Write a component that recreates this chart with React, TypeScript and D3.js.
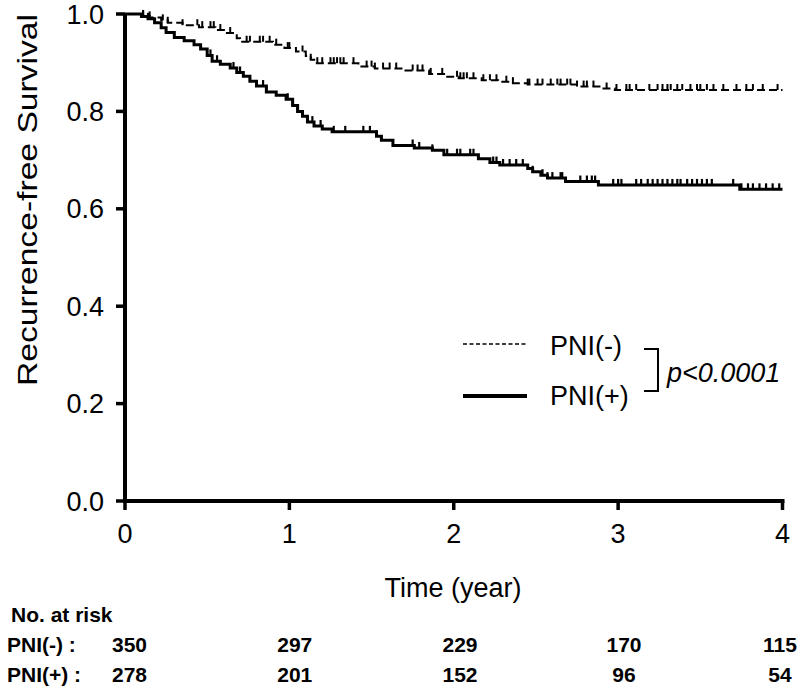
import React from "react";
import * as d3 from "d3";

// Kaplan–Meier steps: [time (years), survival]
const pniNegSteps: [number, number][] = [
  [0, 1], [0.11, 0.996], [0.15, 0.993], [0.22, 0.987], [0.26, 0.982], [0.35, 0.977],
  [0.45, 0.973], [0.55, 0.967], [0.62, 0.961], [0.68, 0.95], [0.7, 0.943], [0.9, 0.937],
  [0.97, 0.93], [1.04, 0.923], [1.1, 0.914], [1.13, 0.906], [1.16, 0.899], [1.42, 0.892],
  [1.52, 0.888], [1.7, 0.884], [1.85, 0.877], [1.95, 0.871], [2.03, 0.868], [2.17, 0.864],
  [2.27, 0.861], [2.36, 0.858], [2.45, 0.855], [2.75, 0.851], [2.9, 0.847], [2.98, 0.844],
  [4.0, 0.844],
];
const pniPosSteps: [number, number][] = [
  [0, 1], [0.1, 0.995], [0.14, 0.99], [0.18, 0.982], [0.22, 0.972], [0.25, 0.962],
  [0.3, 0.952], [0.36, 0.945], [0.42, 0.937], [0.46, 0.928], [0.5, 0.915], [0.53, 0.903],
  [0.58, 0.897], [0.64, 0.889], [0.68, 0.88], [0.72, 0.872], [0.76, 0.862], [0.8, 0.852],
  [0.86, 0.84], [0.92, 0.833], [0.98, 0.825], [1.02, 0.812], [1.05, 0.8], [1.08, 0.79],
  [1.11, 0.778], [1.15, 0.77], [1.2, 0.764], [1.26, 0.758], [1.53, 0.749], [1.56, 0.741],
  [1.63, 0.73], [1.76, 0.725], [1.87, 0.72], [1.94, 0.711], [2.15, 0.703], [2.22, 0.695],
  [2.28, 0.69], [2.45, 0.683], [2.48, 0.676], [2.53, 0.669], [2.57, 0.663], [2.68, 0.656],
  [2.88, 0.649], [3.74, 0.64], [4.0, 0.64],
];
// censored times
const pniNegCensor: number[] = [
  0.11, 0.15, 0.23, 0.26, 0.35, 0.44, 0.47, 0.52, 0.54, 0.58, 0.64, 0.74, 0.76, 0.82, 0.84,
  0.88, 0.92, 0.99, 1.0, 1.08, 1.13, 1.17, 1.2, 1.25, 1.27, 1.29, 1.31, 1.33, 1.39, 1.47,
  1.5, 1.52, 1.57, 1.61, 1.65, 1.75, 1.78, 1.81, 1.86, 1.93, 2.02, 2.04, 2.06, 2.08, 2.12,
  2.18, 2.22, 2.26, 2.32, 2.36, 2.45, 2.46, 2.51, 2.54, 2.59, 2.63, 2.65, 2.69, 2.71, 2.75,
  2.79, 2.81, 2.85, 2.93, 2.99, 3.05, 3.07, 3.11, 3.19, 3.24, 3.27, 3.3, 3.32, 3.36, 3.39,
  3.44, 3.48, 3.5, 3.54, 3.58, 3.64, 3.72, 3.78, 3.82, 3.88, 3.97,
];
const pniPosCensor: number[] = [
  0.11, 0.14, 0.52, 0.56, 0.66, 0.7, 0.76, 0.8, 0.84, 0.86, 0.99, 1.02, 1.05, 1.14, 1.19,
  1.27, 1.34, 1.45, 1.49, 1.53, 1.75, 1.79, 1.87, 1.96, 2.02, 2.04, 2.1, 2.12, 2.24, 2.26,
  2.3, 2.34, 2.38, 2.42, 2.48, 2.54, 2.57, 2.6, 2.65, 2.66, 2.77, 2.81, 2.84, 2.86, 2.97,
  3.0, 3.02, 3.11, 3.14, 3.18, 3.21, 3.24, 3.27, 3.3, 3.33, 3.36, 3.38, 3.42, 3.45, 3.48,
  3.51, 3.54, 3.57, 3.7, 3.75, 3.79, 3.82, 3.86, 3.9, 3.94, 3.98,
];

const xTicks = [0, 1, 2, 3, 4];
const yTicks = [0, 0.2, 0.4, 0.6, 0.8, 1.0];
const riskTimes = [0, 1, 2, 3, 4];
const riskNeg = [350, 297, 229, 170, 115];
const riskPos = [278, 201, 152, 96, 54];
const groupLabels = ["PNI(-)", "PNI(+)"];

const FONT = "'Liberation Sans', Arial, Helvetica, sans-serif";

function survAt(steps: [number, number][], t: number) {
  let s = 1;
  for (const [ti, si] of steps) {
    if (ti <= t) s = si;
    else break;
  }
  return s;
}

export default function App() {
  const x = d3.scaleLinear().domain([0, 4]).range([125, 782.5]);
  const y = d3.scaleLinear().domain([0, 1]).range([501, 14]);
  // risk-table column centres
  const xr = d3.scaleLinear().domain([0, 2, 3, 4]).range([129.5, 460, 624, 780]);
  const line = d3
    .line<[number, number]>()
    .x((d) => x(d[0]))
    .y((d) => y(d[1]))
    .curve(d3.curveStepAfter);

  const axisW = 4;
  return (
    <svg
      width={800}
      height={689}
      style={{ position: "absolute", left: 0, top: 0, background: "#fff" }}
      fontFamily={FONT}
    >
      <rect width={800} height={689} fill="#fff" />
      {/* curves */}
      <path d={line(pniNegSteps) || ""} fill="none" stroke="#000" strokeWidth={2} strokeDasharray="8,4" />
      <path d={line(pniPosSteps) || ""} fill="none" stroke="#000" strokeWidth={3} />
      {pniNegCensor.map((t, i) => (
        <line key={"nc" + i} x1={x(t)} x2={x(t)} y1={y(survAt(pniNegSteps, t))} y2={y(survAt(pniNegSteps, t)) - 6} stroke="#000" strokeWidth={2} />
      ))}
      {pniPosCensor.map((t, i) => (
        <line key={"pc" + i} x1={x(t)} x2={x(t)} y1={y(survAt(pniPosSteps, t))} y2={y(survAt(pniPosSteps, t)) - 6} stroke="#000" strokeWidth={2.2} />
      ))}

      {/* axes */}
      <line x1={x(0)} x2={x(0)} y1={y(1) - 1} y2={y(0) + 2} stroke="#000" strokeWidth={axisW} />
      <line x1={x(0) - 2} x2={x(4) + 2} y1={y(0)} y2={y(0)} stroke="#000" strokeWidth={axisW} />
      {yTicks.map((v) => (
        <g key={"yt" + v}>
          <line x1={x(0) - 9} x2={x(0)} y1={y(v)} y2={y(v)} stroke="#000" strokeWidth={3.5} />
          <text x={104} y={y(v) + 9.5} fontSize={27} textAnchor="end" fill="#000">
            {v.toFixed(1)}
          </text>
        </g>
      ))}
      {xTicks.map((v) => (
        <g key={"xt" + v}>
          <line x1={x(v)} x2={x(v)} y1={y(0)} y2={y(0) + 9} stroke="#000" strokeWidth={3.5} />
          <text x={x(v)} y={543} fontSize={27} textAnchor="middle" fill="#000">
            {v}
          </text>
        </g>
      ))}
      <text
        transform={`translate(37,200) rotate(-90)`}
        fontSize={27}
        textAnchor="middle"
        fill="#000"
        textLength={372}
        lengthAdjust="spacingAndGlyphs"
      >
        Recurrence-free Survival
      </text>
      <text x={453} y={597} fontSize={27} textAnchor="middle" fill="#000">
        Time (year)
      </text>

      {/* legend */}
      <line x1={463} x2={527} y1={344} y2={344} stroke="#000" strokeWidth={1.5} strokeDasharray="4,2.5" />
      <line x1={463} x2={527} y1={396} y2={396} stroke="#000" strokeWidth={4} />
      <text x={550} y={355} fontSize={27} fill="#000">{groupLabels[0]}</text>
      <text x={550} y={405} fontSize={27} fill="#000">{groupLabels[1]}</text>
      <path d="M644,349 H658 V391 H644" fill="none" stroke="#000" strokeWidth={2} />
      <text x={667} y={382} fontSize={27} fontStyle="italic" fill="#000">p&lt;0.0001</text>

      {/* risk table */}
      <text x={11} y={622} fontSize={21} fontWeight="bold" fill="#000">No. at risk</text>
      <text x={7} y={652} fontSize={21} fontWeight="bold" fill="#000">{groupLabels[0]} :</text>
      <text x={7} y={682} fontSize={21} fontWeight="bold" fill="#000">{groupLabels[1]} :</text>
      {riskTimes.map((t, i) => (
        <g key={"r" + i}>
          <text x={xr(t)} y={652} fontSize={21} fontWeight="bold" textAnchor="middle" fill="#000">
            {riskNeg[i]}
          </text>
          <text x={xr(t)} y={682} fontSize={21} fontWeight="bold" textAnchor="middle" fill="#000">
            {riskPos[i]}
          </text>
        </g>
      ))}
    </svg>
  );
}
